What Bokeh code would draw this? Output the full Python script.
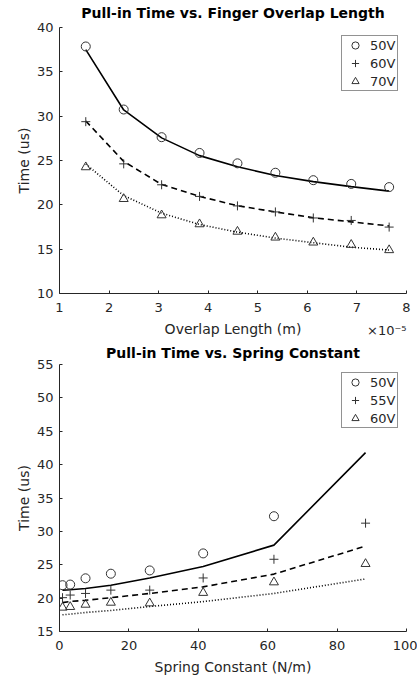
from bokeh.plotting import figure
from bokeh.layouts import column
from bokeh.models import (Range1d, FixedTicker, CustomJSTickFormatter, Legend,
                          LegendItem, Title)
from bokeh.embed import file_html
from bokeh.resources import INLINE

# ---------------- data: Pull-in time vs. finger overlap length ----------------
overlap_m = [1.53e-5, 2.295e-5, 3.06e-5, 3.825e-5, 4.59e-5, 5.355e-5, 6.12e-5, 6.885e-5, 7.65e-5]
ov_50_meas = [37.86, 30.75, 27.63, 25.85, 24.68, 23.62, 22.78, 22.36, 22.0]
ov_50_model = [37.5, 30.7, 27.55, 25.55, 24.3, 23.3, 22.62, 22.05, 21.55]
ov_60_meas = [29.38, 24.62, 22.26, 20.95, 19.88, 19.2, 18.52, 18.24, 17.49]
ov_60_model = [29.46, 24.9, 22.3, 20.95, 19.9, 19.2, 18.55, 18.08, 17.62]
ov_70_meas = [24.25, 20.67, 18.83, 17.82, 16.98, 16.32, 15.76, 15.5, 14.9]
ov_70_model = [24.6, 21.04, 19.06, 17.78, 16.92, 16.25, 15.73, 15.22, 14.9]
ov_labels = ["50V", "60V", "70V"]

# ---------------- data: Pull-in time vs. spring constant ----------------
spring_k = [0.87, 3.08, 7.5, 14.8, 26.0, 41.4, 61.8, 88.2]
k_50_meas = [21.94, 22.03, 22.97, 23.66, 24.15, 26.7, 32.27]          # no point at 88.2
k_50_model = [21.2, 21.25, 21.44, 21.94, 23.02, 24.74, 27.94, 41.8]
k_55_meas = [20.07, 20.46, 20.7, 21.2, 21.2, 23.02, 25.82, 31.23]
k_55_model = [19.33, 19.5, 19.67, 20.07, 20.7, 21.69, 23.6, 27.79]
k_60_meas = [18.59, 18.69, 19.03, 19.33, 19.23, 20.8, 22.38, 25.13]
k_60_model = [17.5, 17.6, 17.85, 18.15, 18.74, 19.48, 20.7, 22.87]
k_labels = ["50V", "55V", "60V"]

FONT = "DejaVu Sans"
AX = "#262626"
MK = "#333333"


def style(p, xticks, yticks, title_standoff):
    p.xaxis.ticker = FixedTicker(ticks=xticks)
    p.yaxis.ticker = FixedTicker(ticks=yticks)
    for ax in (p.xaxis[0], p.yaxis[0]):
        ax.major_tick_in = 3
        ax.major_tick_out = 0
        ax.minor_tick_in = 0
        ax.minor_tick_out = 0
        ax.axis_line_color = AX
        ax.major_tick_line_color = AX
        ax.major_label_text_font = FONT
        ax.major_label_text_font_size = "13px"
        ax.major_label_text_color = AX
        ax.axis_label_text_font = FONT
        ax.axis_label_text_font_size = "14px"
        ax.axis_label_text_font_style = "normal"
        ax.axis_label_text_color = AX
    p.xaxis[0].major_label_standoff = 9
    p.xaxis[0].axis_label_standoff = 6
    p.yaxis[0].major_label_standoff = 6
    p.yaxis[0].axis_label_standoff = 2
    p.xgrid.visible = False
    p.ygrid.visible = False
    p.outline_line_color = None
    p.background_fill_color = "white"
    p.border_fill_color = "white"
    p.title.text_font = FONT
    p.title.text_font_size = "14px"
    p.title.text_font_style = "bold"
    p.title.text_color = "black"
    p.title.align = "center"
    p.title.vertical_align = "top"
    p.title.standoff = title_standoff


def add_series(p, meas, xm, model, labels_):
    for ys, dash in zip(model, ["solid", "6 4", "1 2"]):
        p.line(xm, ys, line_color="black", line_width=1.6, line_dash=dash)
    rs = []
    for (xs, ys), mk in zip(meas, ["circle", "cross", "triangle"]):
        r = p.scatter(xs, ys, marker=mk, size=9,
                      line_color=MK, line_width=1, fill_alpha=0)
        rs.append(r)
    legend = Legend(items=[LegendItem(label=l, renderers=[r]) for l, r in zip(labels_, rs)],
                    location="top_right", margin=8, padding=0, spacing=-2,
                    glyph_width=26, glyph_height=18, label_height=18,
                    label_width=27, label_standoff=2,
                    label_text_font=FONT, label_text_font_size="13px",
                    label_text_color=AX, border_line_color=AX, border_line_width=1,
                    background_fill_color="white", background_fill_alpha=1)
    p.add_layout(legend)


# ---------------- top figure ----------------
p1 = figure(frame_width=347, frame_height=266,
            x_range=Range1d(1e-5, 8e-5), y_range=Range1d(10, 40),
            title="Pull-in Time vs. Finger Overlap Length",
            output_backend="svg", toolbar_location=None,
            min_border_left=59, min_border_right=11, min_border_top=27, min_border_bottom=49,
            x_axis_label="Overlap Length (m)", y_axis_label="Time (us)")
style(p1, [i * 1e-5 for i in range(1, 9)], [10, 15, 20, 25, 30, 35, 40], 9)
p1.xaxis[0].formatter = CustomJSTickFormatter(code="return Math.round(tick*1e5).toString();")
add_series(p1, [(overlap_m, ov_50_meas), (overlap_m, ov_60_meas), (overlap_m, ov_70_meas)],
           overlap_m, [ov_50_model, ov_60_model, ov_70_model], ov_labels)
p1.add_layout(Title(text="\u00d710\u207b\u2075", align="right", vertical_align="top",
                    standoff=-33, offset=0, text_font=FONT, text_font_size="13px",
                    text_font_style="normal", text_color=AX), "below")

# ---------------- bottom figure ----------------
p2 = figure(frame_width=347, frame_height=267,
            x_range=Range1d(0, 100), y_range=Range1d(15, 55),
            title="Pull-in Time vs. Spring Constant",
            output_backend="svg", toolbar_location=None,
            min_border_left=59, min_border_right=11, min_border_top=22, min_border_bottom=40,
            x_axis_label="Spring Constant (N/m)", y_axis_label="Time (us)")
style(p2, [0, 20, 40, 60, 80, 100], [15, 20, 25, 30, 35, 40, 45, 50, 55], 4)
add_series(p2, [(spring_k[:len(k_50_meas)], k_50_meas), (spring_k, k_55_meas), (spring_k, k_60_meas)],
           spring_k, [k_50_model, k_55_model, k_60_model], k_labels)

layout = column(p1, p2, spacing=0)
open("out.html", "w").write(file_html(layout, INLINE))
